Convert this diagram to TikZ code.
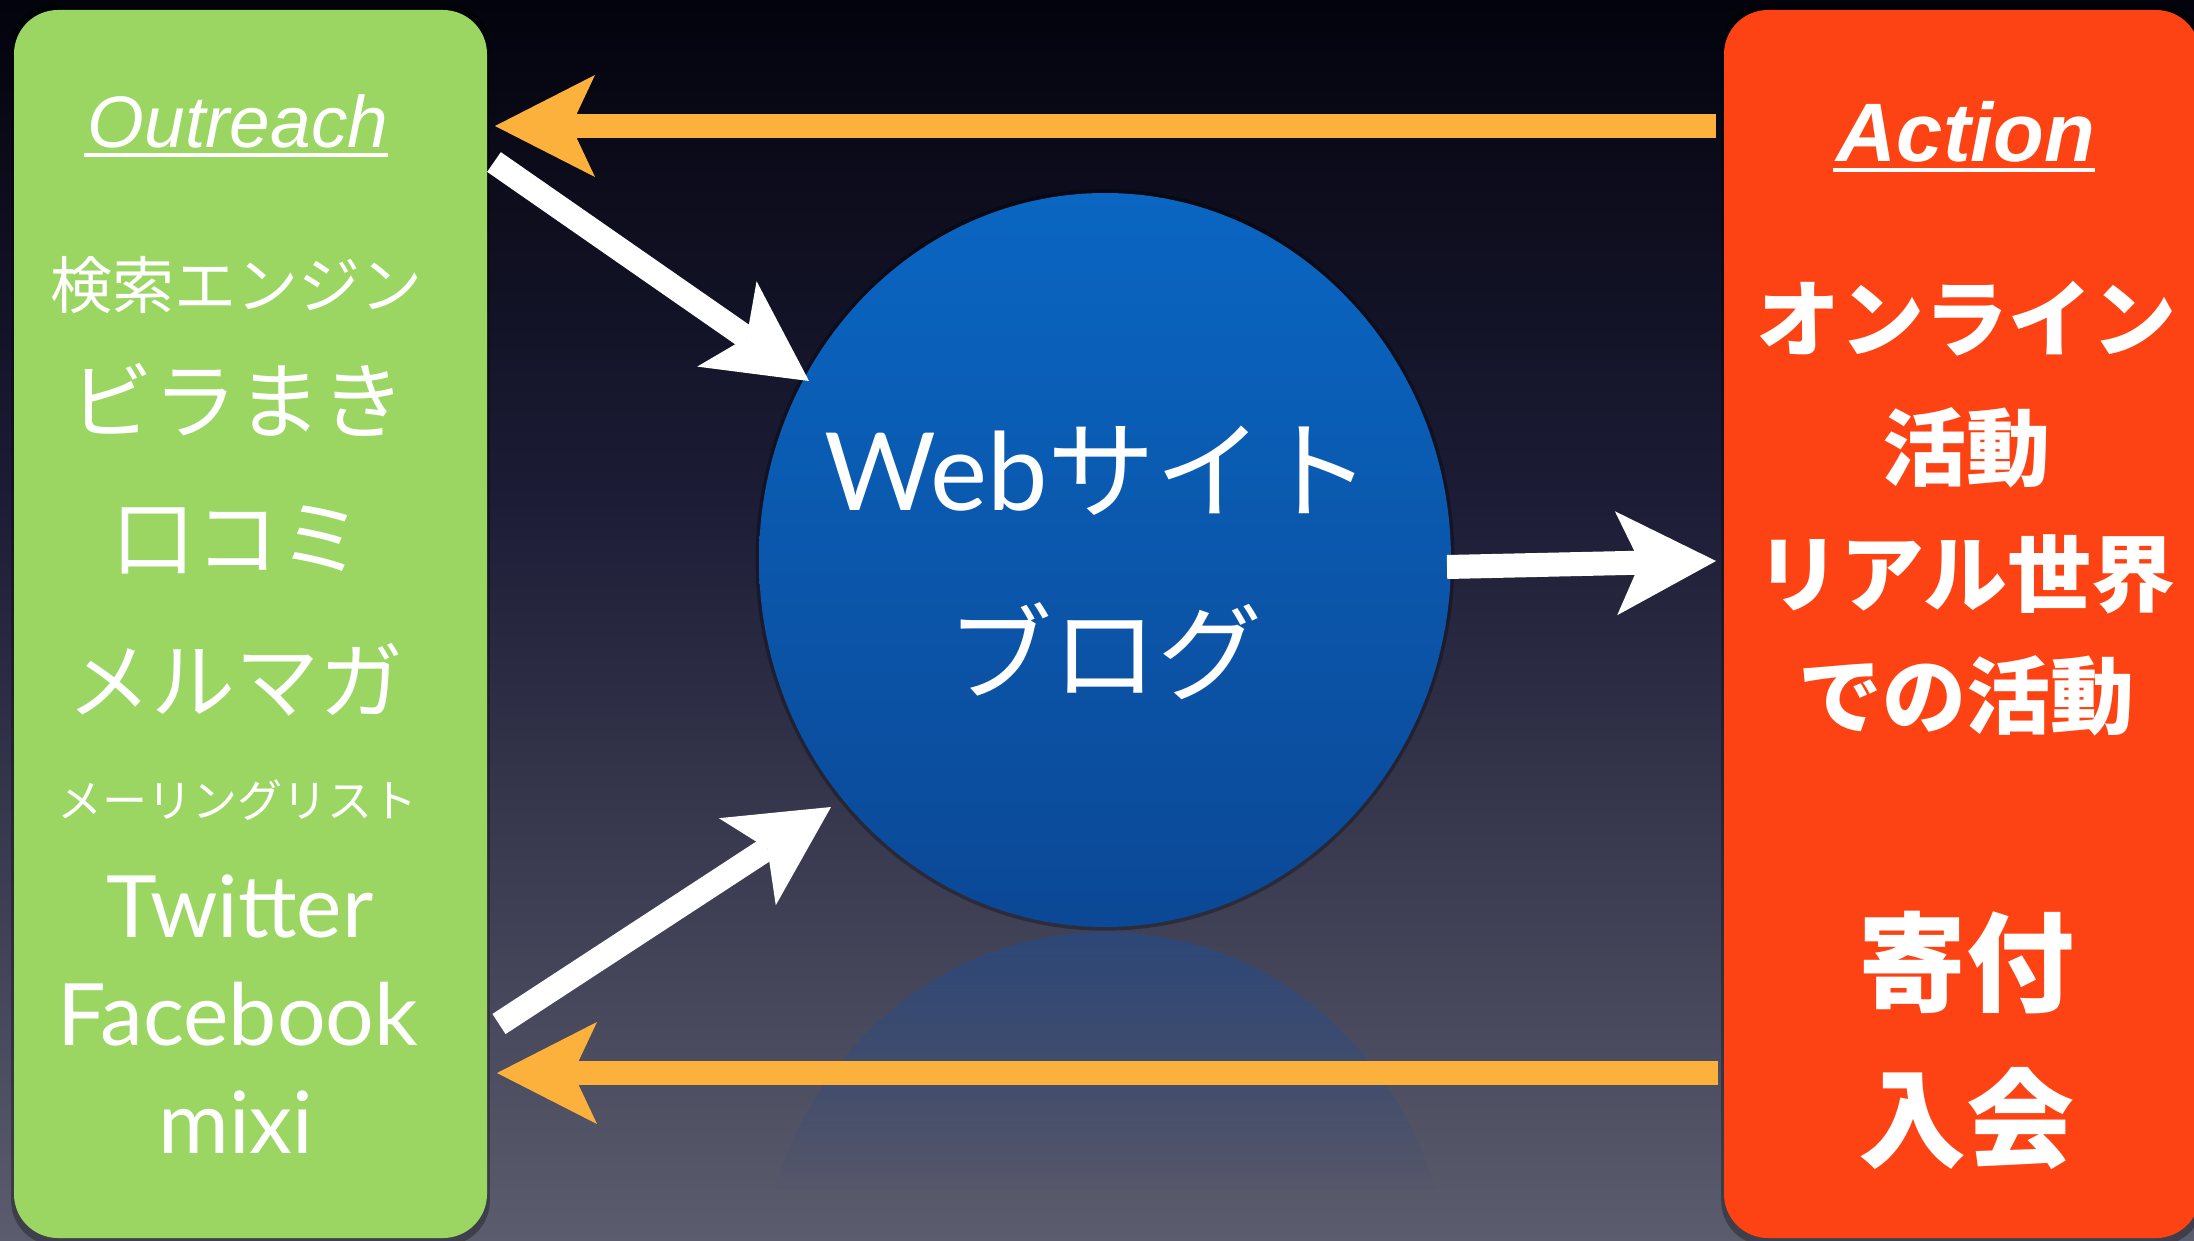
\documentclass[tikz,border=0pt]{standalone}
\usepackage{fontspec}
\setmainfont{Lato}
\newfontfamily\cjk{Noto Sans CJK JP}
\newfontfamily\helv{Liberation Sans}
\usetikzlibrary{arrows.meta,shadows,calc,fadings,shapes.geometric}
\definecolor{bgtop}{HTML}{03030D}
\definecolor{bgmid}{HTML}{1C1C36}
\definecolor{bgbot}{HTML}{5B5C6D}
\definecolor{outgreen}{HTML}{9BD562}
\definecolor{actred}{HTML}{FD4313}
\definecolor{arrorange}{HTML}{FDB13D}
\definecolor{bluetop}{HTML}{0A66C2}
\definecolor{bluebot}{HTML}{0B4896}
\definecolor{reflblue}{HTML}{1A4E9A}
\tikzfading[name=reflfade, top color=transparent!50, bottom color=transparent!100]
\begin{document}
\begin{tikzpicture}[x=1pt,y=-1pt,
  panel/.style={rounded corners=44pt, draw=none, inner sep=0pt,
    general shadow={fill=black, opacity=0.3, shadow scale=1.012}},
  txt/.style={text=white, inner sep=0pt},
  whitearrow/.style={draw=white, line width=24pt,
    -{Stealth[length=100pt, width=104pt, inset=24pt, line width=0pt]}},
  orangearrow/.style={draw=arrorange, line width=24pt,
    -{Stealth[length=100pt, width=102pt, inset=24pt, line width=0pt]}},
  lcjk/.style={txt, font=\cjk\fontsize{#1}{#1}\selectfont},
  rcjk/.style={txt, font=\cjk\bfseries\fontsize{#1}{#1}\selectfont},
  latin/.style={txt, anchor=base, font=\fontsize{#1}{#1}\selectfont}]
% background
\useasboundingbox (0,0) rectangle (2194,1241);
\shade[top color=bgtop, bottom color=bgmid] (0,0) rectangle (2194,501);
\shade[top color=bgmid, bottom color=bgbot] (0,500) rectangle (2194,1241);
% reflection of the circle
\begin{scope}
  \clip (1105,1299) ellipse [x radius=346, y radius=367];
  \fill[reflblue, path fading=reflfade] (750,930) rectangle (1460,1190);
\end{scope}
% panels
\node[panel, fill=outgreen, minimum width=473pt, minimum height=1228pt] (outbox) at (250.5,624) {};
\node[panel, fill=actred, minimum width=476pt, minimum height=1228pt] (actbox) at (1962,624) {};
% central circle
\node[ellipse, inner sep=0pt, minimum width=692pt, minimum height=734pt,
  top color=bluetop, bottom color=bluebot,
  general shadow={fill=black, opacity=0.3, shadow scale=1.01}] (web) at (1105,560) {};
% connector end points
\coordinate (oTopS) at (1716,126);
\coordinate (oTopE) at (495,126);
\coordinate (oBotS) at (1718,1073);
\coordinate (oBotE) at (497,1073);
\coordinate (w1S) at (494,162);
\coordinate (w1E) at (809,381);
\coordinate (w2S) at (499,1024);
\coordinate (w2E) at (831,807);
\coordinate (w3S) at (1447,567);
\coordinate (w3E) at (1716,561);
% connectors
\draw[orangearrow] (oTopS) -- (oTopE);
\draw[orangearrow] (oBotS) -- (oBotE);
\draw[whitearrow] (w1S) -- (w1E);
\draw[whitearrow] (w2S) -- (w2E);
\draw[whitearrow] (w3S) -- (w3E);
% left panel text
\node[txt, anchor=base, font=\helv\itshape\fontsize{73}{80}\selectfont] (outreach) at (238,148) {Outreach};
\draw[white, line width=3.5pt] ($(outreach.base west)+(-4,7)$) -- ($(outreach.base east)+(0,7)$);
\node[lcjk=62] (kensaku) at (236,285) {検索エンジン};
\node[lcjk=84] (bira) at (237,400) {ビラまき};
\node[lcjk=84] (kuchi) at (237,540) {口コミ};
\node[lcjk=84] (merumaga) at (235,680) {メルマガ};
\node[lcjk=45] (ml) at (237,800) {メーリングリスト};
\node[latin=86] (twitter) at (240,937) {Twitter};
\node[latin=86] (facebook) at (238,1045) {Facebook};
\node[latin=86] (mixi) at (236,1153) {mixi};
% right panel text
\node[txt, anchor=base, font=\helv\bfseries\itshape\fontsize{83}{90}\selectfont] (action) at (1966,162) {Action};
\draw[white, line width=3.5pt] ($(action.base west)+(-4,8)$) -- ($(action.base east)+(0,8)$);
\node[rcjk=84] (online) at (1966,319) {オンライン};
\node[rcjk=84] (katsudo) at (1966,448) {活動};
\node[rcjk=84] (real) at (1966,574) {リアル世界};
\node[rcjk=84] (deno) at (1966,696) {での活動};
\node[rcjk=108] (kifu) at (1966,963) {寄付};
\node[rcjk=108] (nyukai) at (1966,1119) {入会};
% circle text
\node[txt, font=\fontsize{108}{110}\selectfont] (webtxt) at (1098,471) {Web{\cjk サイト}};
\node[lcjk=105] (blog) at (1105,651) {ブログ};
\end{tikzpicture}
\end{document}
